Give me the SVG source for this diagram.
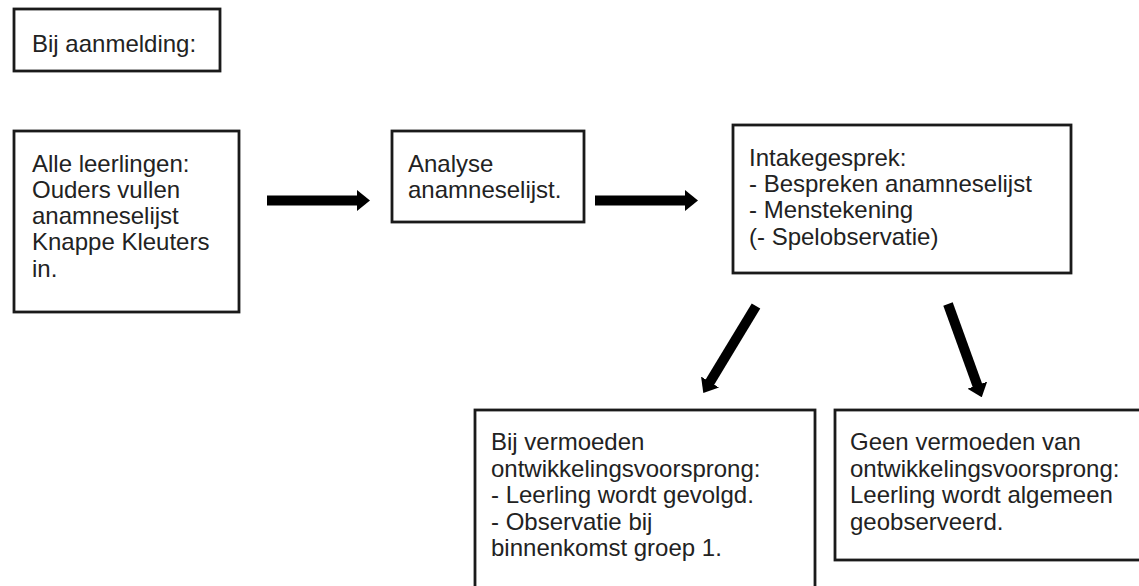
<svg xmlns="http://www.w3.org/2000/svg" width="1139" height="586" viewBox="0 0 1139 586">
<style>
.box{fill:#fff;stroke:#1a1a1a;stroke-width:2.8}
.t{font-family:"Liberation Sans",Arial,sans-serif;font-size:24px;fill:#222}
.arr{stroke:#000;stroke-width:10;fill:none;stroke-linecap:butt}
</style>
<defs>
<marker id="head" markerUnits="userSpaceOnUse" viewBox="0 0 13 21" refX="2" refY="10.5" markerWidth="13" markerHeight="21" orient="auto">
<path d="M0,0 L13,10.5 L0,21 Z" fill="#000"/>
</marker>
</defs>
<rect width="1139" height="586" fill="#fff"/>
<g id="n-aanmelding">
<rect class="box" x="14" y="9" width="206" height="62"/>
<text class="t" x="32" y="52">Bij aanmelding:</text>
</g>
<g id="n-alle">
<rect class="box" x="14" y="131" width="225" height="181"/>
<text class="t"><tspan x="32" y="171.5">Alle leerlingen:</tspan><tspan x="32" y="197.8">Ouders vullen</tspan><tspan x="32" y="224">anamneselijst</tspan><tspan x="32" y="250.3">Knappe Kleuters</tspan><tspan x="32" y="276.5">in.</tspan></text>
</g>
<g id="n-analyse">
<rect class="box" x="392" y="131" width="192" height="91"/>
<text class="t"><tspan x="408" y="171.5">Analyse</tspan><tspan x="408" y="198">anamneselijst.</tspan></text>
</g>
<g id="n-intake">
<rect class="box" x="733" y="125" width="338" height="148"/>
<text class="t"><tspan x="749" y="165.5">Intakegesprek:</tspan><tspan x="749" y="192">- Bespreken anamneselijst</tspan><tspan x="749" y="218.3">- Menstekening</tspan><tspan x="749" y="244.5">(- Spelobservatie)</tspan></text>
</g>
<g id="n-vermoeden">
<rect class="box" x="475" y="410" width="340" height="200"/>
<text class="t"><tspan x="491" y="450">Bij vermoeden</tspan><tspan x="491" y="476.5">ontwikkelingsvoorsprong:</tspan><tspan x="491" y="503">- Leerling wordt gevolgd.</tspan><tspan x="491" y="529.5">- Observatie bij</tspan><tspan x="491" y="556">binnenkomst groep 1.</tspan></text>
</g>
<g id="n-geen">
<rect class="box" x="835" y="410" width="320" height="150"/>
<text class="t"><tspan x="850" y="450">Geen vermoeden van</tspan><tspan x="850" y="476.5">ontwikkelingsvoorsprong:</tspan><tspan x="850" y="503">Leerling wordt algemeen</tspan><tspan x="850" y="529.5">geobserveerd.</tspan></text>
</g>
<g id="connectors">
<line class="arr" x1="267" y1="200.5" x2="359" y2="200.5" marker-end="url(#head)"/>
<line class="arr" x1="595" y1="200.5" x2="687" y2="200.5" marker-end="url(#head)"/>
<line class="arr" x1="756" y1="306" x2="709" y2="383.7" marker-end="url(#head)"/>
<line class="arr" x1="948" y1="304" x2="978" y2="387" marker-end="url(#head)"/>
</g>
</svg>
